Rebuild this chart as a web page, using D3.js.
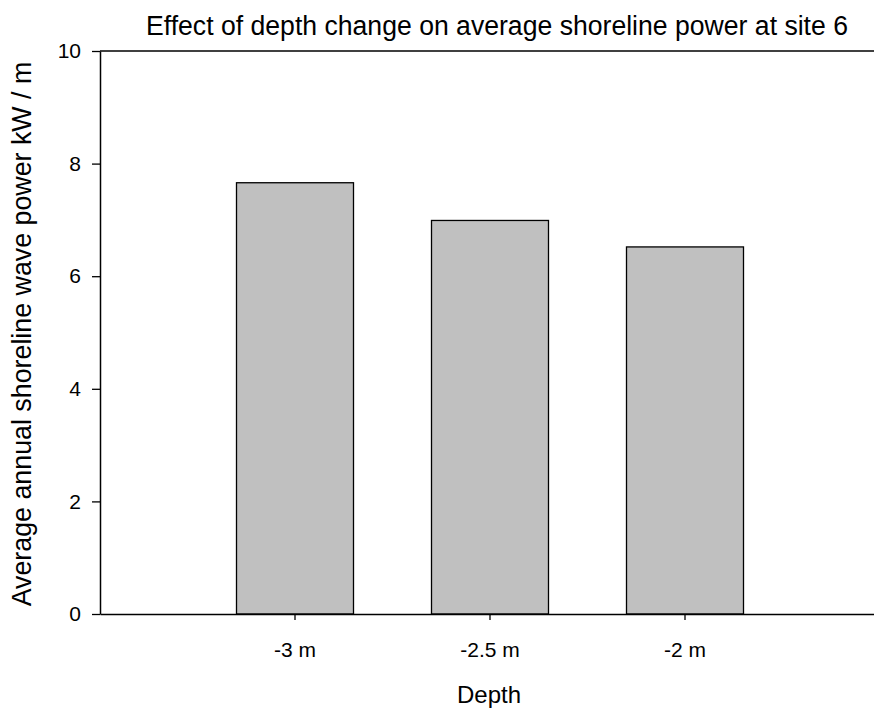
<!DOCTYPE html>
<html>
<head>
<meta charset="utf-8">
<script src="https://cdn.jsdelivr.net/npm/d3@7"></script>
<style>
  body { margin: 0; background: #fff; }
  text { font-family: "Liberation Sans", Arial, sans-serif; fill: #000; }
</style>
</head>
<body>
<div id="vis"></div>
<script>
const WIDTH = 874;
const HEIGHT = 710;

// datos
const depths = ["-3 m", "-2.5 m", "-2 m"];
const power = [7.66, 6.99, 6.52];
const yTicks = [0, 2, 4, 6, 8, 10];

const SVG = d3.select("#vis").append("svg")
  .attr("width", WIDTH)
  .attr("height", HEIGHT);

const izq = 100, der = 880, arriba = 51, abajo = 614;

const escalaX = d3.scaleBand()
  .domain(depths)
  .range([izq, der])
  .paddingInner(0.4)
  .paddingOuter(0.7);

const escalaY = d3.scaleLinear()
  .domain([0, 10])
  .range([abajo, arriba]);

// barras
SVG.selectAll(".barra")
  .data(depths)
  .join("rect")
  .attr("class", "barra")
  .attr("x", d => escalaX(d))
  .attr("width", escalaX.bandwidth())
  .attr("y", (d, i) => escalaY(power[i]))
  .attr("height", (d, i) => abajo - escalaY(power[i]))
  .attr("fill", "#c0c0c0")
  .attr("stroke", "#000")
  .attr("stroke-width", 1.3);

// eje y
const ejeY = SVG.append("g")
  .attr("transform", `translate(${izq},0)`)
  .call(d3.axisLeft(escalaY).tickValues(yTicks).tickSize(8).tickSizeOuter(0).tickPadding(11));
ejeY.select(".domain").attr("stroke-width", 1.5);
ejeY.selectAll(".tick line").attr("stroke-width", 1.3);
ejeY.selectAll("text").attr("font-size", 21).style("font-family", "Liberation Sans, Arial, sans-serif");

// eje x
const ejeX = SVG.append("g")
  .attr("transform", `translate(0,${abajo})`)
  .call(d3.axisBottom(escalaX).tickSize(6).tickSizeOuter(0).tickPadding(22));
ejeX.select(".domain").attr("stroke-width", 1.5);
ejeX.selectAll(".tick line").attr("stroke-width", 1.3);
ejeX.selectAll("text").attr("font-size", 21).style("font-family", "Liberation Sans, Arial, sans-serif");

// linea superior
SVG.append("line")
  .attr("x1", izq).attr("x2", der)
  .attr("y1", arriba).attr("y2", arriba)
  .attr("stroke", "#000")
  .attr("stroke-width", 1.5);

// titulos
SVG.append("text")
  .attr("x", 497).attr("y", 35)
  .attr("text-anchor", "middle")
  .attr("font-size", 27)
  .attr("textLength", 702)
  .attr("lengthAdjust", "spacingAndGlyphs")
  .text("Effect of depth change on average shoreline power at site 6");

SVG.append("text")
  .attr("x", 489).attr("y", 703)
  .attr("text-anchor", "middle")
  .attr("font-size", 24)
  .text("Depth");

SVG.append("text")
  .attr("transform", `translate(31,334) rotate(-90)`)
  .attr("text-anchor", "middle")
  .attr("font-size", 26.8)
  .text("Average annual shoreline wave power kW / m");
</script>
</body>
</html>
